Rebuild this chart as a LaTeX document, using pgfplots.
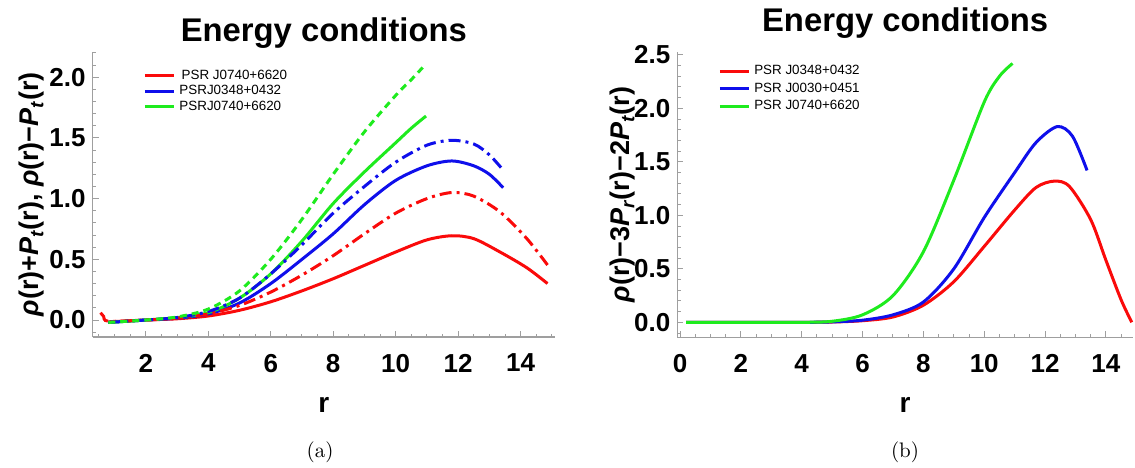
\documentclass[border=0pt]{standalone}
\usepackage{pgfplots}
\pgfplotsset{compat=1.18}
\usepackage{fontspec}
\setsansfont{Liberation Sans}
\newfontfamily\lsans{Liberation Sans}
\definecolor{mred}{RGB}{250,10,10}
\definecolor{mblue}{RGB}{15,15,235}
\definecolor{mgreen}{RGB}{30,235,30}
\pgfplotsset{
  ecstyle/.style={
    scale only axis,
    axis x line*=bottom, axis y line*=left,
    axis line style={gray!75, line width=0.6pt},
    tick style={gray!75, line width=0.5pt},
    tick align=inside,
    major tick length=3pt, minor tick length=1.6pt,
    ticklabel style={font=\lsans\bfseries\fontsize{13}{14}\selectfont},
    xticklabel style={yshift=-5pt},
    /pgf/number format/assume math mode=true,
    /pgf/number format/fixed, /pgf/number format/fixed zerofill,
    /pgf/number format/precision=1,
    xticklabel={\pgfmathprintnumber[fixed,precision=0]{\tick}},
    title style={font=\lsans\bfseries\fontsize{16.4}{18}\selectfont, at={(0.5,1)}, anchor=base},
    xlabel style={font=\lsans\bfseries\fontsize{14}{15}\selectfont, at={(axis description cs:0.5,0)}, anchor=center, yshift=-34pt},
    ylabel style={font=\lsans\bfseries\fontsize{13.5}{15}\selectfont, at={(axis description cs:0,0.5)}, anchor=center},
    legend style={draw=none, fill=none, font=\lsans\fontsize{6.7}{7}\selectfont,
      inner sep=0pt, legend cell align=left,
      nodes={inner ysep=0.5pt, text height=5pt, text depth=1.2pt}},
    legend image code/.code={\draw[#1, line width=1.5pt] (0pt,0pt) -- (14.5pt,0pt);},
    every axis plot/.append style={line width=1.5pt, smooth},
  }
}
\begin{document}
\begin{tikzpicture}
\useasboundingbox (0,0) rectangle (567.5pt,233.5pt);
% Panel (a)
\begin{axis}[ecstyle,
  at={(46.35pt,65pt)}, anchor=south west,
  width=231.15pt, height=142.65pt,
  xmin=0.3, xmax=15.1, ymin=-0.14, ymax=2.21,
  xtick={2,4,...,14}, minor xtick={0.5,1,...,15},
  ytick={0,0.5,...,2}, minor ytick={-0.1,0,...,2.2},
  title={Energy conditions}, title style={yshift=-1pt},
  xlabel={r},
  ylabel={{\itshape ρ}(r)+{\itshape P}\textsubscript{\itshape t}(r), {\itshape ρ}(r)−{\itshape P}\textsubscript{\itshape t}(r)},
  ylabel style={yshift=30.35pt},
  legend style={at={(0.109,0.944)}, anchor=north west, row sep=0.7pt},
]
\addplot[mred] coordinates {(0.8,-0.015) (2,0.0) (3,0.01) (4,0.033) (5,0.08) (6,0.15) (7,0.24) (8,0.34) (9,0.45) (10,0.56) (11,0.66) (11.8,0.694) (12.5,0.67) (13.34,0.56) (14.2,0.43) (14.86,0.30)};
\addlegendentry{\,PSR J0740+6620}
\addplot[mblue] coordinates {(0.8,-0.02) (2,0.0) (3,0.015) (4,0.05) (5,0.14) (6,0.3) (7,0.5) (8,0.71) (9,0.95) (10,1.15) (11,1.27) (11.8,1.31) (12.5,1.27) (13,1.2) (13.44,1.09)};
\addlegendentry{PSRJ0348+0432}
\addplot[mgreen] coordinates {(0.8,-0.02) (2,0.0) (3,0.02) (4,0.06) (5,0.18) (6,0.38) (7,0.65) (8,0.96) (9,1.22) (10,1.46) (10.5,1.58) (10.97,1.68)};
\addlegendentry{PSRJ0740+6620}
\addplot[mred, dash pattern=on 6pt off 2.5pt on 1.5pt off 2.5pt] coordinates {(0.55,0.06) (0.65,0.03) (0.8,-0.01) (2,0.0) (3,0.015) (4,0.05) (5,0.12) (6,0.23) (7,0.37) (8,0.53) (9,0.71) (10,0.88) (11,1.0) (11.8,1.05) (12.5,1.02) (13.34,0.89) (14.2,0.67) (14.86,0.453)};
\addplot[mblue, dash pattern=on 6pt off 2.5pt on 1.5pt off 2.5pt] coordinates {(0.8,-0.02) (2,0.0) (3,0.02) (4,0.07) (5,0.18) (6,0.38) (7,0.62) (8,0.88) (9,1.1) (10,1.3) (11,1.44) (11.79,1.48) (12.5,1.45) (13,1.36) (13.44,1.235)};
\addplot[mgreen, dash pattern=on 3.5pt off 2.5pt] coordinates {(0.8,-0.02) (2,0.0) (3,0.025) (4,0.09) (5,0.24) (6,0.5) (7,0.83) (8,1.2) (9,1.55) (10,1.85) (10.5,1.98) (10.9,2.09)};
\end{axis}
\node[font=\fontsize{10.5}{11}\selectfont] at (160pt,7.5pt) {(a)};
% Panel (b)
\begin{axis}[ecstyle,
  at={(338.65pt,64.85pt)}, anchor=south west,
  width=227.85pt, height=142.8pt,
  xmin=-0.09, xmax=14.89, ymin=-0.14, ymax=2.53,
  xtick={0,2,...,14}, minor xtick={0.5,1,...,14.5},
  ytick={0,0.5,...,2.5}, minor ytick={-0.1,0,...,2.5},
  title={Energy conditions}, title style={yshift=4pt},
  xlabel={r},
  ylabel={{\itshape ρ}(r)−3{\itshape P}\textsubscript{\itshape r}(r)−2{\itshape P}\textsubscript{\itshape t}(r)},
  ylabel style={yshift=27.15pt},
  legend style={at={(0.089,0.959)}, anchor=north west, row sep=1.55pt},
]
\addplot[mred] coordinates {(0.2,0) (2,0) (4,0) (5,0.003) (6,0.015) (7,0.05) (8,0.16) (9,0.38) (10,0.71) (11,1.05) (11.7,1.26) (12.3,1.32) (12.8,1.27) (13.5,0.96) (14,0.58) (14.5,0.21) (14.85,0.0)};
\addlegendentry{PSR J0348+0432}
\addplot[mblue] coordinates {(0.2,0) (2,0) (4,0) (5,0.004) (6,0.02) (7,0.07) (8,0.19) (9,0.5) (10,0.98) (11,1.4) (11.7,1.68) (12.4,1.83) (12.9,1.74) (13.38,1.42)};
\addlegendentry{PSR J0030+0451}
\addplot[mgreen] coordinates {(0.2,0) (2,0) (4,0) (5,0.01) (6,0.07) (7,0.25) (8,0.66) (9,1.33) (10,2.06) (10.5,2.3) (10.93,2.42)};
\addlegendentry{PSR J0740+6620}
\end{axis}
\node[font=\fontsize{10.5}{11}\selectfont] at (452.5pt,7.5pt) {(b)};
\end{tikzpicture}
\end{document}
